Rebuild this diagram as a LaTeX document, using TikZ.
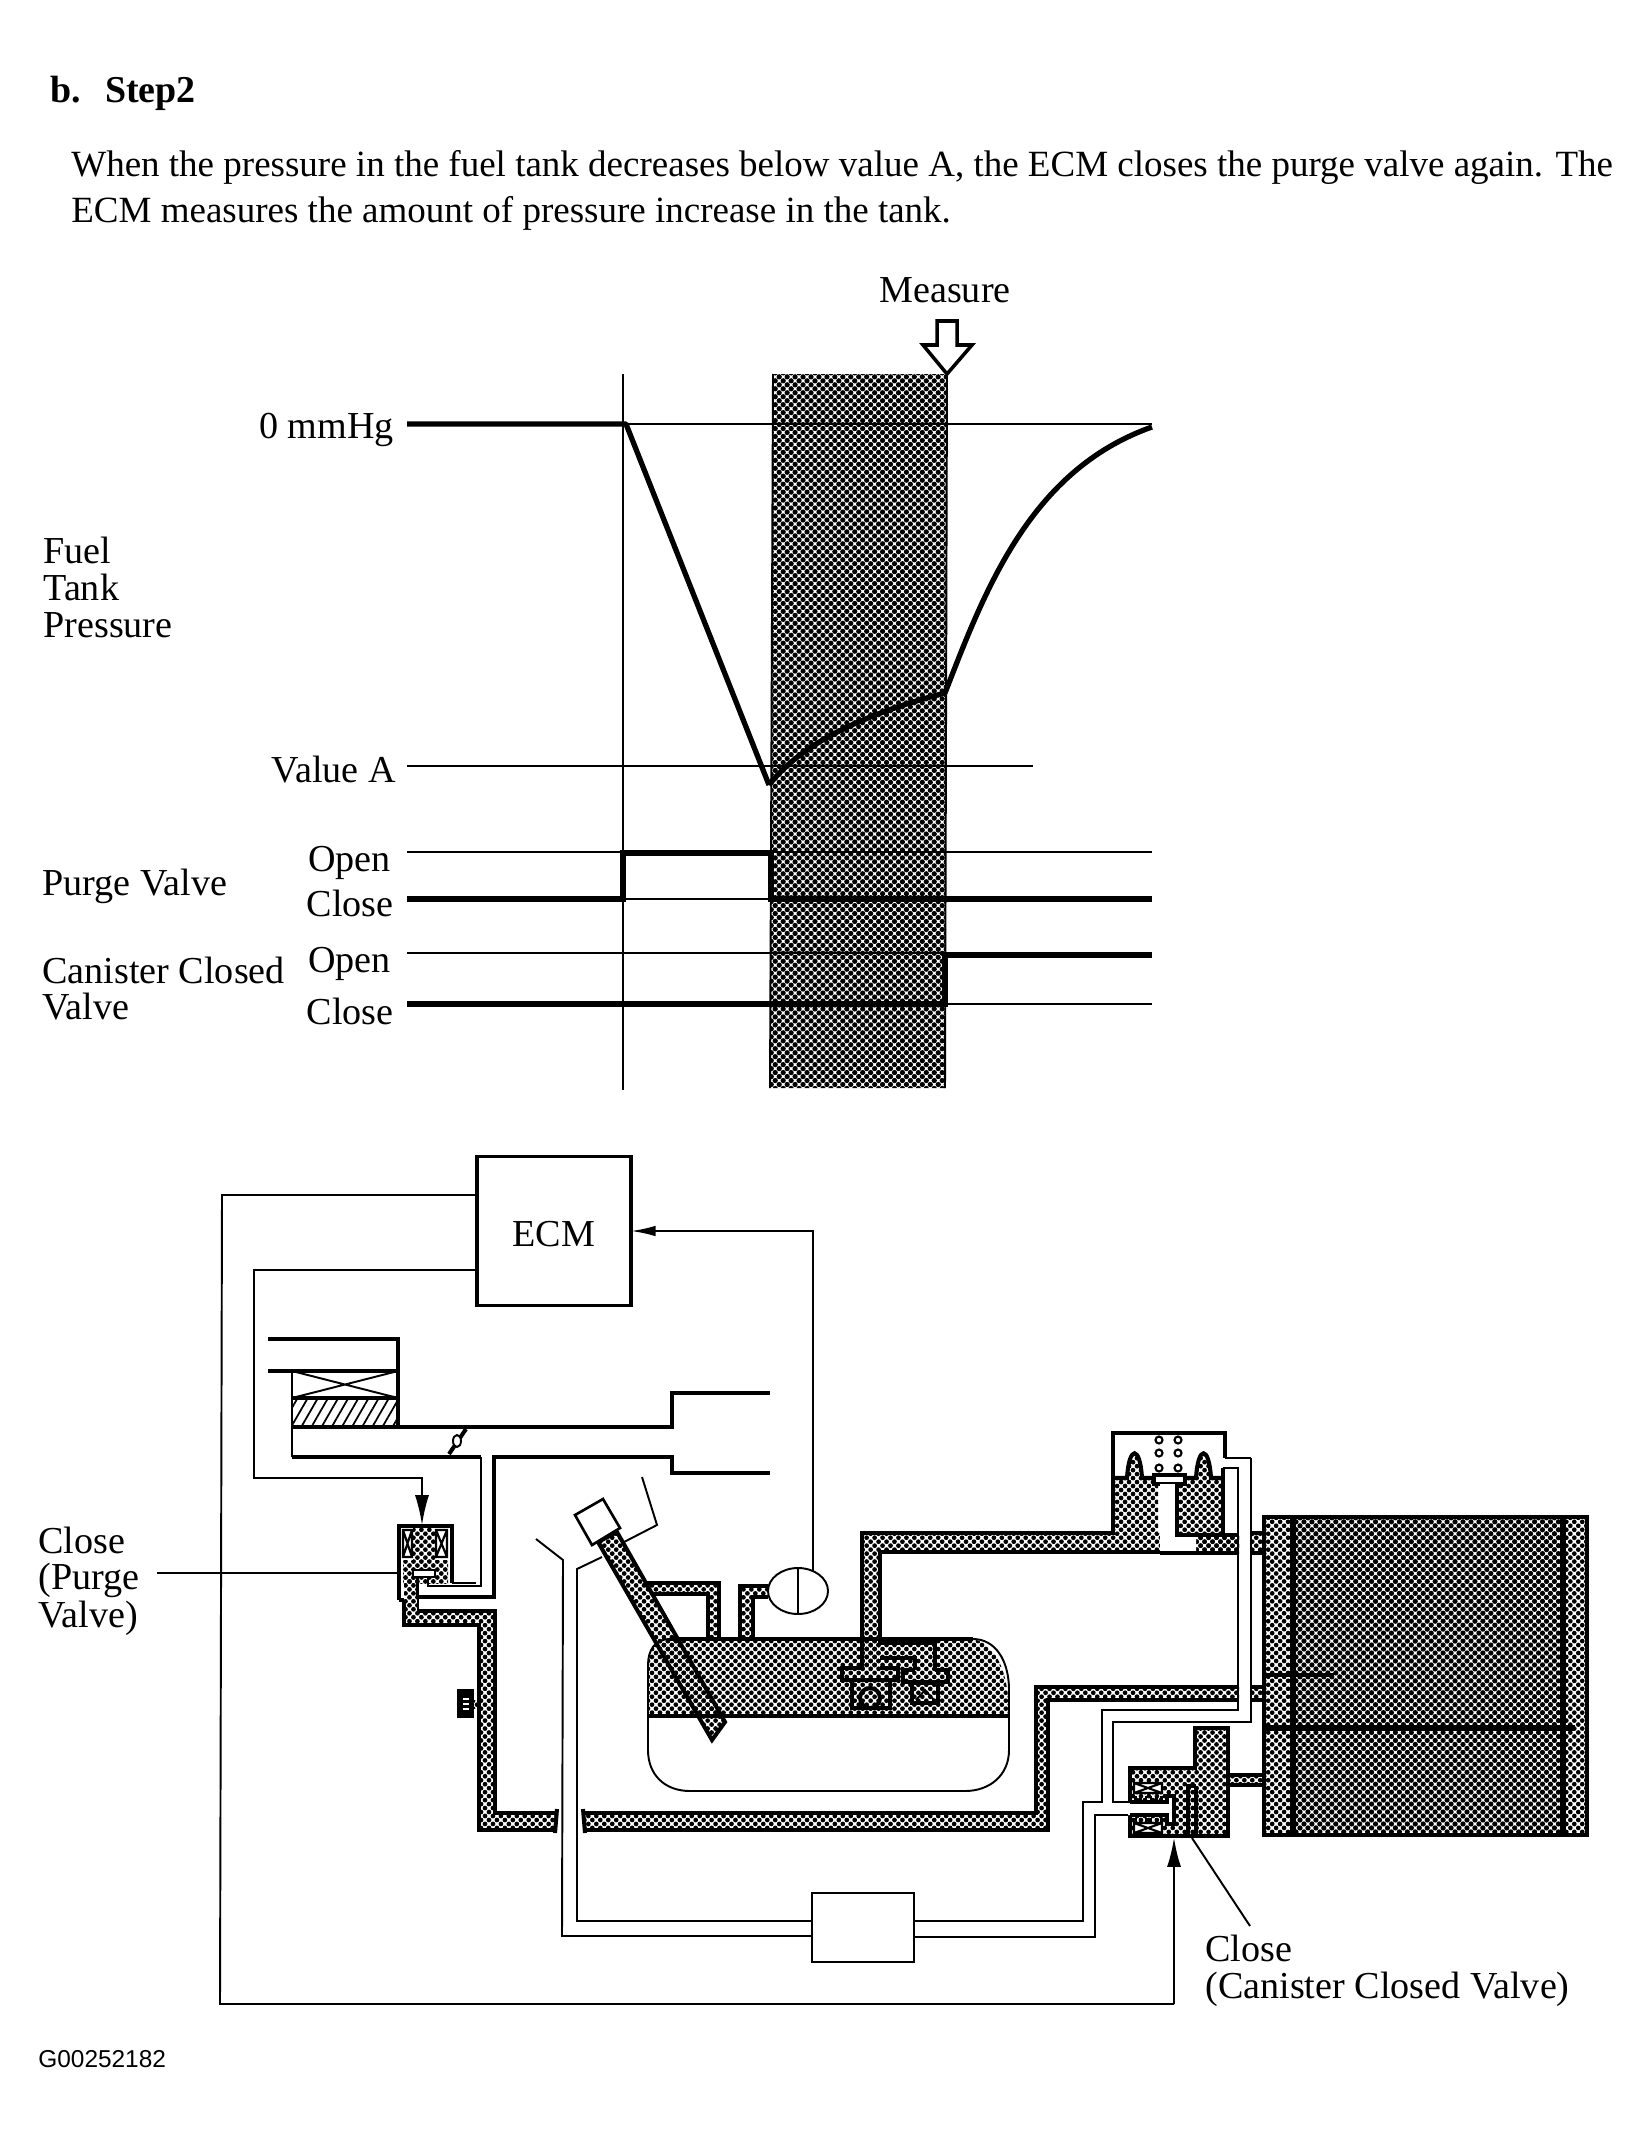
\documentclass[tikz,border=0pt]{standalone}
\usepackage{fontspec}
\setmainfont{Liberation Serif}
\setsansfont{Liberation Sans}
\usetikzlibrary{arrows.meta,patterns.meta}
\tikzset{
  thinln/.style={line width=1.1pt},
  thickln/.style={line width=2.3pt},
  tubeln/.style={line width=1.5pt},
  lbl/.style={inner sep=0pt, font=\fontsize{21.7}{21.7}\selectfont},
  para/.style={inner sep=0pt, anchor=west, font=\fontsize{21.06}{21.06}\selectfont},
  screen/.style={pattern={Dots[radius=1.35pt,distance=3.2pt,angle=45]}},
  darkscreen/.style={pattern={Dots[radius=1.5pt,distance=3.2pt,angle=45]}},
  pipe/.style={screen, draw, line width=2.3pt, line join=miter}
}
\begin{document}
\begin{tikzpicture}[x=0.02cm, y=-0.02cm]
  \useasboundingbox (0,0) rectangle (1649,2142);
  % heading
  \node[para, font=\fontsize{21.6}{21.6}\selectfont\bfseries] (head) at (50,93) {b.\ \ \kern3pt Step2};
  \node[para] (para1) at (71,167) {When the pressure in the fuel tank decreases below value A, the ECM closes the purge valve again. The};
  \node[para] (para2) at (71,213) {ECM measures the amount of pressure increase in the tank.};
  % chart
  \fill[darkscreen] (773,374) -- (947,374) -- (945,1088) -- (770,1088) -- cycle;
  \draw[thinln] (773,374) -- (770,1088);
  \draw[thinln] (947,374) -- (945,1088);
  \node[lbl] (measure) at (945,290) {Measure};
  \draw[line width=2pt, fill=white] (937,321) -- (957,321) -- (957,345) -- (972,345) -- (947,374) -- (923,345) -- (937,345) -- cycle;
  \draw[thinln] (623,374) -- (623,1090);
  \draw[thinln] (626,424) -- (1152,424);
  \draw[thinln] (407,766) -- (1033,766);
  \draw[thinln] (407,852) -- (1152,852);
  \draw[thinln] (407,953) -- (1152,953);
  \draw[thinln] (945,1004) -- (1152,1004);
  \draw[thinln] (623,899) -- (1152,899);
  \draw[line width=3pt, line join=round] (407,424) -- (626,424) -- (769,785);
  \draw[line width=3pt, line join=round] (769,785) .. controls (800,745) and (860,715) .. (945,693)
     .. controls (985,590) and (1030,470) .. (1152,427);
  \draw[line width=3pt] (407,899) -- (623,899) -- (623,853) -- (771,853) -- (771,899) -- (1152,899);
  \draw[line width=3pt] (407,1004) -- (945,1004) -- (945,955) -- (1152,955);
  \node[lbl, anchor=east] (zero) at (394,430) {0 mmHg};
  \node[lbl, anchor=east] (valuea) at (396,770) {Value A};
  \node[lbl, anchor=west] (fuel) at (43,550) {Fuel};
  \node[lbl, anchor=west] (tank) at (43,587) {Tank};
  \node[lbl, anchor=west] (pressure) at (43,625) {Pressure};
  \node[lbl, anchor=west] (purge) at (42,886) {Purge Valve};
  \node[lbl, anchor=east] (open1) at (391,863) {Open};
  \node[lbl, anchor=east] (close1) at (394,903) {Close};
  \node[lbl, anchor=west] (canister) at (42,970) {Canister Closed};
  \node[lbl, anchor=west] (valve) at (42,1007) {Valve};
  \node[lbl, anchor=east] (open2) at (391,964) {Open};
  \node[lbl, anchor=east] (close2) at (394,1011) {Close};
  % ecm and signal wires
  \node[draw, line width=2pt, lbl, text height=17.5pt, text depth=0pt, minimum width=3.08cm, minimum height=2.98cm] (ecm) at (554,1231) {ECM};
  \coordinate (wireA) at (477,1195);
  \coordinate (wireB) at (477,1270);
  \coordinate (wireC) at (631,1231);
  \coordinate (purgein) at (422,1525);
  \coordinate (canin) at (1174,1837);
  \coordinate (sensorup) at (813,1571);
  \draw[thinln] (wireA) -- (222,1195) -- (220,2004) -- (1174,2004);
  \draw[line width=1.6pt, -{Latex[length=17pt,width=8pt]}] (1174,2004) -- (canin);
  \draw[thinln, -{Latex[length=17pt,width=8pt]}] (wireB) -- (254,1270) -- (254,1478) -- (422,1478) -- (purgein);
  \draw[thinln, -{Latex[length=14pt,width=6pt]}] (sensorup) -- (813,1231) -- (wireC);
  % throttle body
  \fill[pattern={Lines[angle=60,distance=5pt,line width=1pt]}] (292,1398) rectangle (398,1427);
  \draw[thickln] (268,1339) -- (398,1339) -- (398,1427);
  \draw[thickln] (268,1371) -- (398,1371);
  \draw[thinln] (292,1371) -- (292,1457);
  \draw[thinln] (292,1371) -- (398,1398) (292,1398) -- (398,1371);
  \draw[thickln] (292,1398) -- (398,1398);
  \draw[thickln] (292,1427) -- (398,1427) -- (672,1427) -- (672,1393) -- (770,1393);
  \draw[thickln] (292,1457) -- (481,1457);
  \draw[tubeln] (481,1457) -- (481,1586) -- (428,1586) -- (428,1577);
  \draw[thickln] (416,1597) -- (494,1597) -- (494,1457) -- (672,1457) -- (672,1473) -- (770,1473);
  \draw[tubeln] (417,1577) -- (417,1597);
  \draw[thickln] (449,1454) -- (466,1429);
  \draw[thinln, fill=white] (457,1441) ellipse (4 and 6);
  % purge valve
  \node[lbl, anchor=west] (closeA) at (38,1540) {Close};
  \node[lbl, anchor=west] (closeB) at (38,1580) {(Purge};
  \node[lbl, anchor=west] (closeC) at (38,1618) {Valve)};
  \coordinate (purgeleft) at (397,1573);
  \draw[thinln] (157,1573) -- (purgeleft);
  \fill[screen] (403,1560) rectangle (448,1583);
  \fill[screen] (413,1528) rectangle (435,1560);
  \fill[screen] (404,1578) -- (404,1625) -- (479,1625) -- (479,1830) -- (557,1830) -- (557,1813) -- (495,1813) -- (495,1611) -- (418,1611) -- (418,1578) -- cycle;
  \draw[thickln] (404,1600) -- (404,1625) -- (479,1625) -- (479,1830) -- (557,1830);
  \draw[thickln] (557,1813) -- (495,1813) -- (495,1611) -- (418,1611);
  \draw[thickln] (557,1809) -- (555,1833);
  \draw[tubeln] (418,1611) -- (418,1578);
  \draw[thickln] (399,1600) -- (399,1526) -- (452,1526) -- (452,1583);
  \draw[tubeln] (452,1583) -- (476,1583);
  \draw[thickln] (399,1600) -- (404,1600);
  \draw[line width=1.2pt] (403,1530) rectangle (412,1557) (403,1530) -- (412,1557) (403,1557) -- (412,1530);
  \draw[line width=1.2pt] (436,1530) rectangle (447,1557) (436,1530) -- (447,1557) (436,1557) -- (447,1530);
  \draw[line width=1.2pt, fill=white] (413,1570) rectangle (435,1577);
  % pump nub
  \fill[screen] (472,1700) rectangle (480,1708);
  \draw[thickln, fill=black] (459,1691) rectangle (472,1716);
  \draw[thinln, white] (463,1699) -- (469,1699) (463,1704) -- (469,1704) (463,1709) -- (469,1709);
  % main vapor pipe to canister
  \fill[screen] (583,1830) -- (1048,1830) -- (1048,1700) -- (1239,1700) -- (1239,1687) -- (1036,1687) -- (1036,1813) -- (583,1813) -- cycle;
  \draw[thickln] (583,1830) -- (1048,1830) -- (1048,1700) -- (1239,1700);
  \draw[thickln] (1239,1687) -- (1036,1687) -- (1036,1813) -- (583,1813);
  \draw[thickln] (583,1809) -- (585,1833);
  % fuel tank
  \fill[screen] (648,1716) -- (648,1665) .. controls (648,1650) and (655,1639) .. (670,1639) -- (973,1639)
     .. controls (1000,1645) and (1009,1680) .. (1009,1716) -- cycle;
  \draw[thickln] (648,1716) -- (1009,1716);
  \draw[thinln] (648,1716) -- (648,1750) .. controls (648,1775) and (665,1791) .. (690,1791) -- (965,1791)
     .. controls (990,1791) and (1009,1775) .. (1009,1750) -- (1009,1716);
  \draw[thinln] (1009,1716) -- (1009,1690) .. controls (1009,1660) and (995,1639) .. (973,1639)
     (670,1639) .. controls (655,1639) and (648,1650) .. (648,1665) -- (648,1716);
  % breather and sensor pipes
  \fill[screen] (640,1583) -- (719,1583) -- (719,1640) -- (708,1640) -- (708,1594) -- (652,1594) -- cycle;
  \draw[thickln] (645,1583) -- (719,1583) -- (719,1639) (652,1594) -- (708,1594) -- (708,1639);
  \fill[screen] (768,1586) -- (740,1586) -- (740,1640) -- (753,1640) -- (753,1597) -- (768,1597) -- cycle;
  \draw[thickln] (768,1586) -- (740,1586) -- (740,1639) (753,1639) -- (753,1597) -- (768,1597);
  \draw[thickln] (670,1639) -- (973,1639);
  \draw[thinln, fill=white] (798,1591) ellipse (30 and 23);
  \draw[thinln] (798,1568) -- (798,1614);
  % filler neck
  \draw[pipe] (598,1542) -- (617,1532) -- (725,1722) -- (712,1740) -- cycle;
  \draw[line width=1.5pt, fill=white] (575,1515) -- (603,1499) -- (620,1528) -- (592,1545) -- cycle;
  % refuel pipe
  \draw[thinln] (536,1539) -- (563,1560) -- (562,1936) -- (812,1936);
  \draw[thinln] (602,1557) -- (577,1569) -- (577,1921) -- (812,1921);
  \draw[thinln] (624,1542) -- (657,1525) -- (642,1477);
  \draw[thinln] (812,1893) rectangle (914,1962);
  % pipe up to diaphragm valve
  \fill[screen] (862,1668) -- (862,1533) -- (1239,1533) -- (1239,1552) -- (880,1552) -- (880,1668) -- cycle;
  \draw[thickln] (862,1668) -- (862,1533) -- (1113,1533) -- (1113,1478);
  \draw[thickln] (880,1643) -- (880,1552) -- (1160,1552);
  % float valves in tank
  \draw[thickln] (880,1643) -- (935,1643) -- (935,1669) (880,1658) -- (915,1658) -- (915,1670);
  \draw[thickln] (862,1668) -- (842,1668) -- (842,1680) -- (898,1680) -- (898,1668) -- (880,1668);
  \draw[thickln] (915,1670) -- (903,1670) -- (903,1682) -- (948,1682) -- (948,1670) -- (935,1670);
  \draw[thickln] (852,1680) -- (852,1708) -- (890,1708) -- (890,1680);
  \draw[thickln] (870,1698) circle (10);
  \draw[thickln] (912,1683) rectangle (938,1703);
  \draw[thinln] (916,1700) -- (925,1690) -- (934,1700);
  % diaphragm valve
  \fill[screen] (1113,1478) rectangle (1158,1533);
  \fill[screen] (1178,1478) rectangle (1223,1533);
  \fill[screen] (1196,1533) rectangle (1239,1553);
  \fill[screen] (1127,1478) .. controls (1129,1445) and (1140,1445) .. (1142,1478) -- cycle;
  \fill[screen] (1196,1478) .. controls (1198,1445) and (1209,1445) .. (1211,1478) -- cycle;
  \draw[thickln] (1113,1533) -- (1113,1433) -- (1225,1433) -- (1225,1458);
  \draw[tubeln] (1225,1458) -- (1251,1458);
  \draw[thickln] (1113,1478) -- (1127,1478) .. controls (1129,1445) and (1140,1445) .. (1142,1478) -- (1154,1478);
  \draw[thickln] (1185,1478) -- (1196,1478) .. controls (1198,1445) and (1209,1445) .. (1211,1478) -- (1223,1478);
  \draw[thickln] (1223,1468) -- (1223,1533);
  \draw[line width=2pt, fill=white] (1154,1475) rectangle (1185,1484);
  \fill[white] (1160,1484) rectangle (1177,1552) (1160,1535) rectangle (1196,1553);
  \draw[thickln] (1177,1484) -- (1177,1535) -- (1239,1535);
  \draw[thickln] (1160,1553) -- (1239,1553);
  \foreach \sx in {1159,1178}
    \foreach \sy in {1440,1453,1468}
      \draw[line width=1.2pt] (\sx,\sy) circle (3.5);
  % white vent tube
  \draw[tubeln] (1223,1468) -- (1238,1468) -- (1238,1710) -- (1102,1710) -- (1102,1802) -- (1083,1802) -- (1083,1921) -- (914,1921);
  \draw[tubeln] (1251,1458) -- (1251,1722) -- (1113,1722) -- (1113,1802) -- (1130,1802);
  \draw[tubeln] (914,1937) -- (1095,1937) -- (1095,1815) -- (1130,1815);
  \fill[screen] (1251,1533) rectangle (1264,1553);
  \draw[thickln] (1251,1533) -- (1264,1533) (1251,1553) -- (1264,1553);
  \fill[screen] (1251,1687) rectangle (1264,1700);
  \draw[thickln] (1251,1687) -- (1264,1687) (1251,1700) -- (1264,1700);
  % canister
  \fill[screen] (1264,1517) rectangle (1293,1835);
  \fill[screen] (1563,1517) rectangle (1587,1835);
  \fill[darkscreen] (1293,1517) rectangle (1563,1835);
  \draw[thickln] (1264,1517) rectangle (1587,1835);
  \draw[line width=3pt] (1293,1517) -- (1293,1835);
  \draw[line width=3pt] (1563,1517) -- (1563,1835);
  \draw[line width=3pt] (1264,1728) -- (1575,1728);
  \draw[thickln] (1264,1675) -- (1334,1675);
  % canister closed valve
  \fill[screen] (1228,1775) rectangle (1264,1785);
  \draw[thickln] (1228,1775) -- (1264,1775) (1228,1785) -- (1264,1785);
  \draw[pipe] (1130,1768) -- (1195,1768) -- (1195,1728) -- (1228,1728) -- (1228,1836) -- (1130,1836) -- cycle;
  \draw[line width=1.2pt, fill=white] (1134,1783) rectangle (1162,1793) (1134,1783) -- (1162,1793) (1134,1793) -- (1162,1783);
  \draw[line width=1.2pt, fill=white] (1134,1823) rectangle (1162,1833) (1134,1823) -- (1162,1833) (1134,1833) -- (1162,1823);
  \fill[white] (1128,1803) rectangle (1168,1815) (1168,1797) rectangle (1173,1823);
  \draw[line width=2.5pt, dash pattern=on 1.5pt off 1.5pt] (1134,1798) -- (1165,1798) (1134,1820) -- (1165,1820);
  \draw[thickln] (1130,1802) -- (1167,1802) -- (1167,1796) -- (1174,1796) -- (1174,1824) -- (1167,1824) -- (1167,1815) -- (1130,1815);
  \draw[thickln] (1188,1786) -- (1188,1836) (1196,1786) -- (1196,1836);
  \draw[thickln] (1186,1786) -- (1196,1786);
  \coordinate (canfoot) at (1192,1838);
  \draw[thinln] (canfoot) -- (1250,1926);
  \node[lbl, anchor=west] (closeD) at (1205,1948) {Close};
  \node[lbl, anchor=west] (closeE) at (1205,1989) {(Canister Closed Valve)};
  \node[anchor=west, inner sep=0pt, font=\sffamily\fontsize{13.9}{13.9}\selectfont] (figid) at (38,2059) {G00252182};
\end{tikzpicture}
\end{document}
